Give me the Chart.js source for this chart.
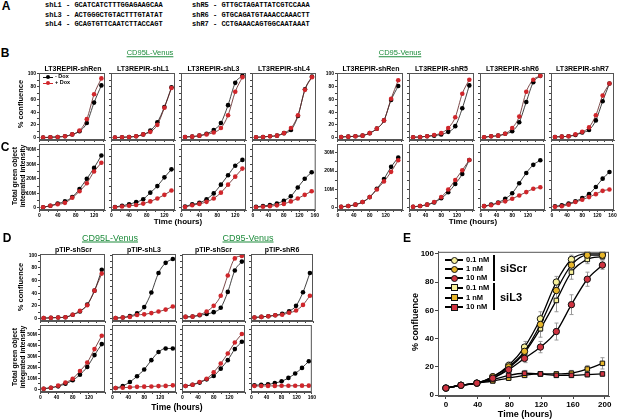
<!DOCTYPE html>
<html>
<head>
<meta charset="utf-8">
<script src="https://cdn.jsdelivr.net/npm/chart.js@4.4.0/dist/chart.umd.min.js"></script>
<style>
  body { margin: 0; width: 617px; height: 419px; overflow: hidden; position: relative; background: #fff;
         font-family: "Liberation Sans", Arial, sans-serif; }
  .lbl { position: absolute; transform: translate(-50%, -50%); white-space: nowrap; line-height: 1; color: #000; }
  .b { font-weight: bold; }
  .big { font-size: 12px; font-weight: bold; }
  .seq { font-family: "Liberation Mono", "DejaVu Sans Mono", monospace; font-size: 7px; font-weight: bold; transform: translate(0, -50%); }
  .grp { color: #1e8c3c; text-decoration: underline; }
  .sw { position: absolute; }
</style>
</head>
<body>
<script>
// ---- time points (hours) ----
const tShort = [8, 24, 40, 56, 72, 88, 104, 120, 136];
const tLong = [8, 26, 44, 62, 80, 98, 116, 134, 152];
const tE = [0, 19, 39, 59, 79, 99, 119, 139, 158, 178, 197];

// ---- B: % confluence (-Dox / +Dox) ----
const bRenL_minus = [0, 0.5, 1, 2, 5, 10, 23, 55, 82];
const bRenL_plus  = [0, 0.5, 1, 2, 5, 11, 29, 68, 93];
const bL1_minus   = [0, 0.5, 1, 2, 5, 11, 24, 48, 79];
const bL1_plus    = [0, 0.5, 1, 2, 5, 9, 20, 47, 78];
const bL3_minus   = [1, 1.5, 3, 6, 12, 23, 51, 86, 97];
const bL3_plus    = [1, 1.5, 3, 5, 8, 15, 35, 72, 95];
const bL4_minus   = [0.5, 1, 2, 3, 7, 12, 34, 76, 96];
const bL4_plus    = [0.5, 1, 2, 3, 7, 15, 35, 75, 95];
const bRenR_minus = [1, 1.5, 2, 3, 7, 14, 27, 59, 81];
const bRenR_plus  = [1, 1.5, 2, 3, 7, 14, 27, 61, 90];
const bR5_minus   = [0.5, 1, 2, 3, 5, 9, 18, 46, 82];
const bR5_plus    = [0.5, 1, 2, 4, 7, 15, 32, 69, 91];
const bR6_minus   = [0.5, 2, 3, 6, 10, 24, 56, 87, 97];
const bR6_plus    = [0.5, 2, 3, 6, 15, 33, 72, 91, 97];
const bR7_minus   = [1, 1.5, 2, 4, 8, 12, 27, 57, 85];
const bR7_plus    = [1, 1.5, 2, 5, 9, 16, 35, 66, 85];

// ---- C: total green object integrated intensity (millions) ----
const cRenL_minus = [0.5, 1.5, 3, 4.5, 7.5, 13, 20, 27.5, 36];
const cRenL_plus  = [0.5, 1.5, 2.5, 3.5, 7, 11.5, 17, 25, 31];
const cL1_minus   = [0.7, 1.5, 2.5, 4, 6, 10.5, 15, 21, 26.5];
const cL1_plus    = [0.5, 1, 1.5, 2, 3, 4.5, 6.5, 9, 12];
const cL3_minus   = [1, 2.5, 3.5, 6, 10, 16, 22.5, 29, 33];
const cL3_plus    = [0.7, 1.9, 2.8, 4.2, 6.5, 10.5, 16, 21.5, 27];
const cL4_minus   = [0.8, 1.3, 2, 3, 5, 8, 14, 20, 24.5];
const cL4_plus    = [0.5, 0.8, 1.2, 1.8, 2.8, 4.5, 6.5, 9, 11.5];
const cRenR_minus = [0.6, 1.1, 1.8, 3.2, 5.9, 10.4, 15.7, 22.3, 27.3];
const cRenR_plus  = [0.6, 1.1, 1.8, 3.2, 5.9, 10, 14.4, 19.6, 25.9];
const cR5_minus   = [0.6, 1.1, 1.8, 3, 5.3, 8.5, 13, 18.4, 26];
const cR5_plus    = [0.6, 1.1, 1.8, 3.2, 5.9, 10, 15.2, 20.5, 26];
const cR6_minus   = [1, 1.8, 3, 5, 8, 13.4, 19, 23.4, 25.9];
const cR6_plus    = [1, 1.5, 2.7, 3.6, 5, 6.8, 8.6, 10.4, 11.2];
const cR7_minus   = [0.9, 1.5, 2.4, 3.6, 5.4, 7.5, 11.4, 15.9, 19.5];
const cR7_plus    = [0.6, 0.9, 1.8, 3.2, 4.5, 5.9, 7.5, 9.3, 10];

// ---- D: pTIP lines, confluence and intensity ----
const dScrL_conf_minus = [0.5, 1, 1.5, 2, 6, 11, 22, 44, 77];
const dScrL_conf_plus  = [0.5, 1, 1.5, 2, 6, 12, 21, 44, 71];
const dL3_conf_minus   = [0.5, 1.5, 4, 8, 18, 41, 72, 88, 94];
const dL3_conf_plus    = [0.5, 1.5, 2.5, 5.5, 6.5, 8.5, 11, 14, 19];
const dScr_conf_minus  = [2.5, 3, 5, 7, 10, 17, 42, 76, 90];
const dScr_conf_plus   = [2.5, 3, 6, 11, 20, 36, 68, 95, 99];
const dR6_conf_minus   = [1.5, 2.5, 3.5, 5, 7.5, 11.5, 20, 41.5, 72];
const dR6_conf_plus    = [1.5, 2.5, 3.5, 5, 6, 9, 12.5, 21.5, 36];
const dScrL_int_minus  = [0.6, 1.5, 2.8, 5.2, 8.3, 13.5, 20.6, 31.4, 41.5];
const dScrL_int_plus   = [0.6, 1.5, 3.4, 6.2, 9.8, 16.9, 24.6, 36.9, 49.2];
const dL3_int_minus    = [1.2, 3.1, 6.8, 12, 18.2, 26.8, 34.2, 37.5, 37.5];
const dL3_int_plus     = [1.2, 1.5, 2, 2.3, 2.5, 2.7, 3, 3.2, 3.7];
const dScr_int_minus   = [3.1, 4.3, 6.2, 9.2, 12.3, 19, 26.8, 36.9, 43.7];
const dScr_int_plus    = [3.1, 4.3, 6.8, 9.8, 15.7, 23.7, 32.9, 43, 50.8];
const dR6_int_minus    = [3.7, 4.3, 4.6, 5.8, 7.4, 10.5, 14.5, 19.7, 25.8];
const dR6_int_plus     = [3.1, 3.1, 3.2, 3.2, 3.3, 3.3, 3.3, 3.4, 3.4];

// ---- E: siRNA titration, % confluence (mean and error) ----
const eScr01 = [5, 7, 8.5, 13, 21, 34, 54, 80, 96, 100, 100];
const eScr1  = [5, 7, 8.5, 13, 20, 31, 50, 74, 92, 99, 99];
const eScr10 = [5, 7, 8.5, 12, 18, 26, 34, 45, 64, 82, 92];
const eL301  = [5, 7, 8.5, 12, 19, 30, 47, 67, 87, 96, 98];
const eL31   = [5, 7, 8.5, 10, 12, 14, 15, 15, 15.5, 18.5, 22.5];
const eL310  = [5, 7, 8.5, 11, 14, 15.5, 15, 14, 14, 14.5, 15];
const eScr01_err = [0.5, 0.5, 1, 1, 2.5, 4, 5, 4, 3, 1, 1];
const eScr1_err  = [0.5, 0.5, 1, 1, 2, 3, 5, 6, 3, 2, 1.5];
const eScr10_err = [0.5, 0.5, 1, 1, 2, 3, 4, 6, 7, 5, 3];
const eL301_err  = [0.5, 0.5, 1, 1, 3, 4, 6, 8, 5, 3, 2];
const eL31_err   = [0.5, 0.5, 1, 1, 1, 1.5, 1.5, 1.5, 2, 2.5, 4];
const eL310_err  = [0.5, 0.5, 1, 1, 1.5, 2, 1.5, 1.5, 1.5, 1.5, 1.5];

const FONT = '"Liberation Sans", Arial, sans-serif';
const RED = '#d0262b';
const PALE = '#f7f19a', GOLD = '#e6b52a', ERED = '#cf3340';

// box frame round each plot area
const frame = {
  id: 'frame',
  afterDraw(chart) {
    const a = chart.chartArea, c = chart.ctx;
    c.save();
    c.strokeStyle = '#555';
    c.lineWidth = 1;
    c.strokeRect(a.left + 0.5, a.top + 0.5, a.right - a.left - 1, a.bottom - a.top - 1);
    c.restore();
  }
};

// grey error bars for datasets that carry an "errors" array
const errBars = {
  id: 'errBars',
  beforeDatasetsDraw(chart) {
    const c = chart.ctx, xs = chart.scales.x, ys = chart.scales.y;
    c.save();
    c.strokeStyle = '#999';
    c.lineWidth = 1;
    chart.data.datasets.forEach(ds => {
      if (!ds.errors) return;
      ds.data.forEach((p, i) => {
        const e = ds.errors[i];
        if (!e) return;
        const x = Math.round(xs.getPixelForValue(p.x)) + 0.5;
        const y1 = ys.getPixelForValue(p.y + e), y2 = ys.getPixelForValue(p.y - e);
        c.beginPath();
        c.moveTo(x, y1); c.lineTo(x, y2);
        c.moveTo(x - 2, y1); c.lineTo(x + 2, y1);
        c.moveTo(x - 2, y2); c.lineTo(x + 2, y2);
        c.stroke();
      });
    });
    c.restore();
  }
};

function txt(s, x, y, cls, css) {
  const d = document.createElement('div');
  d.className = 'lbl ' + (cls || '');
  d.innerHTML = s;
  d.style.left = x + 'px';
  d.style.top = y + 'px';
  if (css) d.style.cssText += css;
  document.body.appendChild(d);
}

// one small plot; box = [left, top, right, bottom] of the plot area in page pixels
function panel(box, xr, yr, series, o) {
  const ml = o.ml, mb = o.mb, mt = 3, mr = 2;
  const w = box[2] - box[0] + ml + mr, h = box[3] - box[1] + mt + mb;
  const cv = document.createElement('canvas');
  cv.width = w; cv.height = h;
  cv.style.cssText = `position:absolute;left:${box[0] - ml}px;top:${box[1] - mt}px;width:${w}px;height:${h}px`;
  document.body.appendChild(cv);
  const tickFont = { family: FONT, size: o.fs || 5, weight: 'bold' };
  new Chart(cv, {
    type: 'line',
    data: {
      datasets: series.map(s => ({
        data: s.x.map((x, i) => ({ x: x, y: s.y[i] })),
        errors: s.err,
        borderColor: s.line || '#333',
        borderWidth: o.lw || 0.8,
        pointRadius: o.pr || 2.3,
        pointStyle: s.shape || 'circle',
        pointBackgroundColor: s.color,
        pointBorderColor: s.border || s.color,
        pointBorderWidth: s.border ? 1 : 0,
        cubicInterpolationMode: 'monotone'
      }))
    },
    options: {
      responsive: false, animation: false, devicePixelRatio: 1,
      layout: { padding: { top: mt, right: mr, left: 0, bottom: 0 } },
      plugins: { legend: { display: false }, tooltip: { enabled: false } },
      scales: {
        x: {
          type: 'linear', min: xr[0], max: xr[1],
          afterBuildTicks: s => { s.ticks = o.xt.map(v => ({ value: v })); },
          afterFit: s => { s.height = mb; },
          grid: { drawOnChartArea: false, tickLength: o.tl || 2, color: '#444' },
          border: { color: '#555' },
          ticks: { autoSkip: false, maxRotation: 0, padding: 1, color: '#000', font: tickFont,
                   callback: v => (o.xl && o.xl.includes(v)) ? String(v) : '' }
        },
        y: {
          min: yr[0], max: yr[1],
          afterBuildTicks: s => { s.ticks = o.yt.map(v => ({ value: v })); },
          afterFit: s => { s.width = ml; },
          grid: { drawOnChartArea: false, tickLength: o.tl || 2, color: '#444' },
          border: { color: '#555' },
          ticks: { autoSkip: false, padding: 1, color: '#000', font: tickFont,
                   callback: v => (o.yl && o.yl.includes(v)) ? (v === 0 ? '0' : v + (o.suf || '')) : '' }
        }
      }
    },
    plugins: [frame, errBars]
  });
}

function pair(x, minus, plus) {
  return [
    { x: x, y: plus, color: RED, line: '#5a1a1a' },
    { x: x, y: minus, color: '#000', line: '#111' }
  ];
}

// ---- panel A text ----
txt('A', 6, 6, 'big');
const seqL = ['shL1 - GCATCATCTTTGGAGAAGCAA', 'shL3 - ACTGGGCTGTACTTTGTATAT', 'shL4 - GCAGTGTTCAATCTTACCAGT'];
const seqR = ['shR5 - GTTGCTAGATTATCGTCCAAA', 'shR6 - GTGCAGATGTAAACCAAACTT', 'shR7 - CCTGAAACAGTGGCAATAAAT'];
[5, 15, 24].forEach((y, i) => {
  txt(seqL[i], 45, y, 'seq');
  txt(seqR[i], 192, y, 'seq');
});

// ---- B and C ----
const xsL = [[39, 107], [109, 177], [179, 248], [250, 318]];
const xsR = [[337, 405], [407, 476], [478, 547], [549, 616]];
const bTop = 72, bBot = 141, cTop = 143, cBot = 210;
const yConf = [0, 10, 20, 30, 40, 50, 60, 70, 80, 90, 100];
const yConfL = [0, 20, 40, 60, 80, 100];
const xT = [0, 20, 40, 60, 80, 100, 120, 140, 160];
const xTS = [0, 20, 40, 60, 80, 100, 120, 140];

const bLeft = [[bRenL_minus, bRenL_plus], [bL1_minus, bL1_plus], [bL3_minus, bL3_plus], [bL4_minus, bL4_plus]];
const bRight = [[bRenR_minus, bRenR_plus], [bR5_minus, bR5_plus], [bR6_minus, bR6_plus], [bR7_minus, bR7_plus]];
const cLeft = [[cRenL_minus, cRenL_plus], [cL1_minus, cL1_plus], [cL3_minus, cL3_plus], [cL4_minus, cL4_plus]];
const cRight = [[cRenR_minus, cRenR_plus], [cR5_minus, cR5_plus], [cR6_minus, cR6_plus], [cR7_minus, cR7_plus]];

xsL.forEach((xs, i) => {
  const last = i === 3;
  const t = last ? tLong : tShort;
  const xr = last ? [-2.4, 162.4] : [-1, 144];
  panel([xs[0], bTop, xs[1], bBot], xr, [-3.8, 101.5], pair(t, bLeft[i][0], bLeft[i][1]),
    { ml: i === 0 ? 20 : 2, mb: 3, xt: last ? xT : xTS, yt: yConf, yl: i === 0 ? yConfL : null });
  panel([xs[0], cTop, xs[1], cBot], xr, [-1.4, 43.9], pair(t, cLeft[i][0], cLeft[i][1]),
    { ml: i === 0 ? 20 : 2, mb: 9, xt: last ? xT : xTS, xl: last ? [0, 40, 80, 120, 160] : [0, 40, 80, 120],
      yt: [0, 5, 10, 15, 20, 25, 30, 35, 40], yl: i === 0 ? [0, 10, 20, 30, 40] : null, suf: 'M' });
});
xsR.forEach((xs, i) => {
  const xr = [-2.5, 164];
  panel([xs[0], bTop, xs[1], bBot], xr, [-3.8, 101.5], pair(tLong, bRight[i][0], bRight[i][1]),
    { ml: i === 0 ? 20 : 2, mb: 3, xt: xT, yt: yConf, yl: i === 0 ? yConfL : null });
  panel([xs[0], cTop, xs[1], cBot], xr, [-1.1, 34.7], pair(tLong, cRight[i][0], cRight[i][1]),
    { ml: i === 0 ? 20 : 2, mb: 9, xt: xT, xl: i === 3 ? [0, 40, 80, 120, 160] : [0, 40, 80, 120],
      yt: [0, 5, 10, 15, 20, 25, 30], yl: i === 0 ? [0, 10, 20, 30] : null, suf: 'M' });
});

txt('B', 5, 53, 'big');
txt('CD95L-Venus', 150, 53, 'grp', 'font-size:7.5px');
txt('CD95-Venus', 400, 53, 'grp', 'font-size:7.5px');
const bTitles = ['LT3REPIR-shRen', 'LT3REPIR-shL1', 'LT3REPIR-shL3', 'LT3REPIR-shL4',
                 'LT3REPIR-shRen', 'LT3REPIR-shR5', 'LT3REPIR-shR6', 'LT3REPIR-shR7'];
xsL.concat(xsR).forEach((xs, i) => txt(bTitles[i], (xs[0] + xs[1]) / 2, 68, 'b', 'font-size:7px'));
txt('% confluence', 21, 104, 'b', 'font-size:7.5px;transform:translate(-50%,-50%) rotate(-90deg)');
txt('C', 5, 147, 'big');
txt('Total green object<br>integrated intensity', 18, 176, 'b',
    'font-size:6.8px;line-height:7.5px;text-align:center;transform:translate(-50%,-50%) rotate(-90deg)');
txt('Time (hours)', 178, 222, 'b', 'font-size:8px');
txt('Time (hours)', 473, 222, 'b', 'font-size:8px');

// legend inside first B panel
[[77, '#000', '#111', '- Dox'], [83, RED, RED, '+ Dox']].forEach(r => {
  const ln = document.createElement('div');
  ln.className = 'sw';
  ln.style.cssText = `left:43px;top:${r[0] - 0.5}px;width:10px;height:1px;background:${r[2]}`;
  document.body.appendChild(ln);
  const dot = document.createElement('div');
  dot.className = 'sw';
  dot.style.cssText = `left:46px;top:${r[0] - 2}px;width:4px;height:4px;border-radius:50%;background:${r[1]}`;
  document.body.appendChild(dot);
  txt(r[3], 55, r[0], 'b', 'font-size:5.5px;transform:translate(0,-50%)');
});

// ---- D ----
const xsD = [[40, 107], [110, 178], [180, 247], [249, 315]];
const dConf = [[dScrL_conf_minus, dScrL_conf_plus], [dL3_conf_minus, dL3_conf_plus],
               [dScr_conf_minus, dScr_conf_plus], [dR6_conf_minus, dR6_conf_plus]];
const dInt = [[dScrL_int_minus, dScrL_int_plus], [dL3_int_minus, dL3_int_plus],
              [dScr_int_minus, dScr_int_plus], [dR6_int_minus, dR6_int_plus]];
xsD.forEach((xs, i) => {
  const xr = [-1, 160];
  panel([xs[0], 253, xs[1], 322], xr, [-4, 102], pair(tLong, dConf[i][0], dConf[i][1]),
    { ml: i === 0 ? 20 : 2, mb: 3, xt: xT, yt: yConf, yl: i === 0 ? yConfL : null });
  panel([xs[0], 324, xs[1], 392], xr, [-2.4, 59], pair(tLong, dInt[i][0], dInt[i][1]),
    { ml: i === 0 ? 20 : 2, mb: 9, xt: xT, xl: i === 3 ? [0, 40, 80, 120, 160] : [0, 40, 80, 120],
      yt: [0, 5, 10, 15, 20, 25, 30, 35, 40, 45, 50, 55], yl: i === 0 ? [0, 10, 20, 30, 40, 50] : null, suf: 'M' });
});
txt('D', 7, 238, 'big');
txt('CD95L-Venus', 110, 238, 'grp', 'font-size:9px');
txt('CD95-Venus', 248, 238, 'grp', 'font-size:9px');
const dTitles = ['pTIP-shScr', 'pTIP-shL3', 'pTIP-shScr', 'pTIP-shR6'];
xsD.forEach((xs, i) => txt(dTitles[i], (xs[0] + xs[1]) / 2, 249, 'b', 'font-size:7px'));
txt('% confluence', 21, 287, 'b', 'font-size:7.5px;transform:translate(-50%,-50%) rotate(-90deg)');
txt('Total green object<br>integrated intensity', 18, 357, 'b',
    'font-size:6.8px;line-height:7.5px;text-align:center;transform:translate(-50%,-50%) rotate(-90deg)');
txt('Time (hours)', 177, 407, 'b', 'font-size:8.5px');

// ---- E ----
const eSeries = [
  { y: eScr10, err: eScr10_err, color: ERED, shape: 'circle' },
  { y: eScr1, err: eScr1_err, color: GOLD, shape: 'circle' },
  { y: eScr01, err: eScr01_err, color: PALE, shape: 'circle' },
  { y: eL310, err: eL310_err, color: ERED, shape: 'rect' },
  { y: eL31, err: eL31_err, color: GOLD, shape: 'rect' },
  { y: eL301, err: eL301_err, color: PALE, shape: 'rect' }
].map(s => ({ x: tE, y: s.y, err: s.err, color: s.color, shape: s.shape, border: '#111', line: '#000' }));
panel([438, 249, 612, 396], [-9.9, 205.3], [-0.6, 101.4], eSeries,
  { ml: 26, mb: 13, fs: 8, lw: 1.3, pr: 3.2, tl: 3,
    xt: [0, 40, 80, 120, 160, 200], xl: [0, 40, 80, 120, 160, 200],
    yt: [0, 20, 40, 60, 80, 100], yl: [0, 20, 40, 60, 80, 100] });
txt('E', 407, 238, 'big');
txt('% confluence', 415, 322, 'b', 'font-size:9px;transform:translate(-50%,-50%) rotate(-90deg)');
txt('Time (hours)', 525, 414, 'b', 'font-size:9px');

const eLeg = [[260, PALE, '50%', '0.1 nM'], [269, GOLD, '50%', '1 nM'], [278, ERED, '50%', '10 nM'],
              [287.5, PALE, '0', '0.1 nM'], [297.5, GOLD, '0', '1 nM'], [307, ERED, '0', '10 nM']];
eLeg.forEach(r => {
  const ln = document.createElement('div');
  ln.className = 'sw';
  ln.style.cssText = `left:445px;top:${r[0] - 1}px;width:18px;height:2px;background:#000`;
  document.body.appendChild(ln);
  const m = document.createElement('div');
  m.className = 'sw';
  m.style.cssText = `left:450.5px;top:${r[0] - 3.5}px;width:5px;height:5px;border:1px solid #111;border-radius:${r[2]};background:${r[1]}`;
  document.body.appendChild(m);
  txt(r[3], 466, r[0], 'b', 'font-size:7.5px;transform:translate(0,-50%)');
});
[[255, 281], [283, 310]].forEach(b => {
  const bar = document.createElement('div');
  bar.className = 'sw';
  bar.style.cssText = `left:493px;top:${b[0]}px;width:1.5px;height:${b[1] - b[0]}px;background:#000`;
  document.body.appendChild(bar);
});
txt('siScr', 500, 268, 'b', 'font-size:11px;transform:translate(0,-50%)');
txt('siL3', 500, 297, 'b', 'font-size:11px;transform:translate(0,-50%)');
</script>
</body>
</html>
